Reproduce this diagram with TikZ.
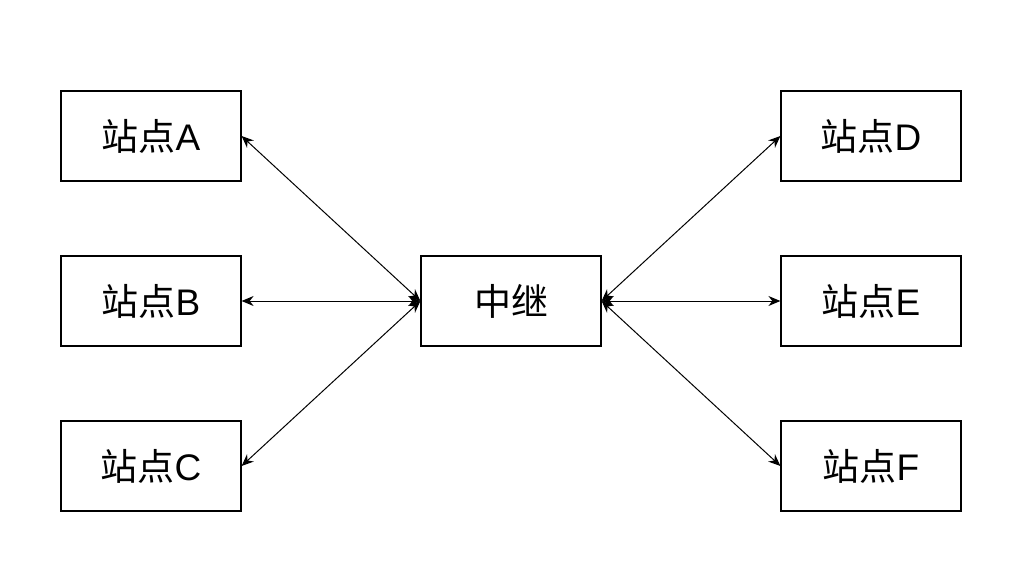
\documentclass[tikz,border=0pt]{standalone}
\usepackage{fontspec}
\setmainfont{Liberation Sans}
\newfontfamily\cjk{Noto Sans CJK SC}
\usetikzlibrary{arrows.meta}

\tikzset{
  station/.style={draw, line width=1.2pt, minimum width=180pt, minimum height=90pt, inner sep=0pt, font=\fontsize{37}{42}\selectfont},
  link/.style={line width=1pt, {Stealth[length=12pt,width=10pt]}-{Stealth[length=12pt,width=10pt]}}
}

\begin{document}
\begin{tikzpicture}[x=1pt, y=-1pt]
\useasboundingbox (0,0) rectangle (1028,571);
% stations on the left
\node[station] (a) at (151,136) {{\cjk 站点}A};
\node[station] (b) at (151,301) {{\cjk 站点}B};
\node[station] (c) at (151,466) {{\cjk 站点}C};
% relay
\node[station] (relay) at (511,301) {\cjk 中继};
% stations on the right
\node[station] (d) at (871,136) {{\cjk 站点}D};
\node[station] (e) at (871,301) {{\cjk 站点}E};
\node[station] (f) at (871,466) {{\cjk 站点}F};
% links
\draw[link] (a.east) -- (relay.west);
\draw[link] (b.east) -- (relay.west);
\draw[link] (c.east) -- (relay.west);
\draw[link] (relay.east) -- (d.west);
\draw[link] (relay.east) -- (e.west);
\draw[link] (relay.east) -- (f.west);
\end{tikzpicture}
\end{document}
